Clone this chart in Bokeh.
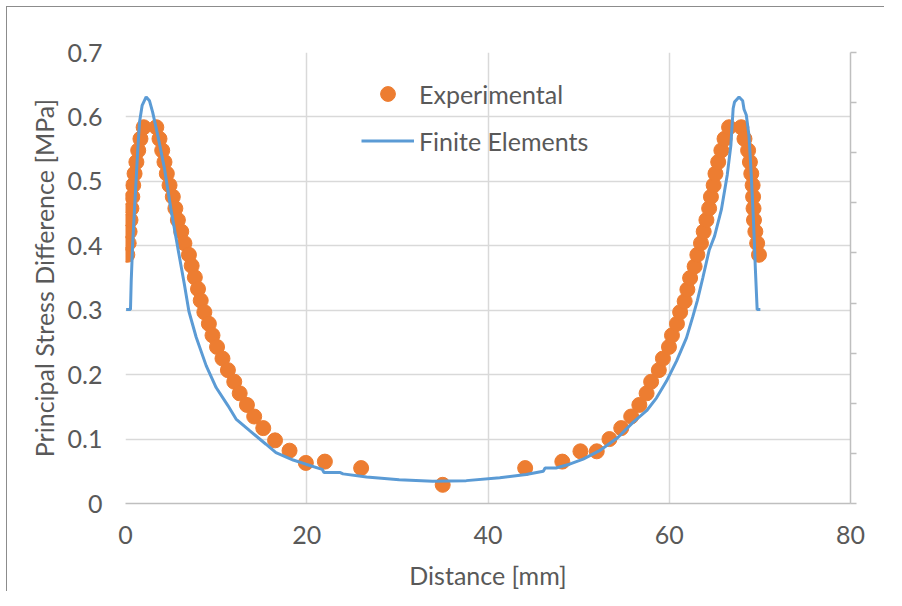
from bokeh.plotting import figure
from bokeh.models import LinearAxis, Range1d, FixedTicker, CustomJSTickFormatter
from bokeh.embed import file_html
from bokeh.resources import INLINE

# Experimental points
exp_x = [0.2, 0.35, 0.45, 0.55, 0.65, 0.75, 0.85, 1.0, 1.2, 1.4, 1.65, 2.0,
         3.4, 3.75, 4.05, 4.3, 4.56, 4.86, 5.22, 5.5, 5.78, 6.15, 6.5, 7.0,
         7.3, 7.65, 8.0, 8.3, 8.7, 9.2, 9.6, 10.1, 10.7, 11.3, 12.0, 12.6,
         13.4, 14.2, 15.2, 16.5, 18.1, 19.9, 22.0, 26.0, 35.0,
         44.1, 48.2, 50.2, 52.0, 53.4, 54.7, 55.8, 56.7, 57.5, 58.0, 58.85,
         59.3, 59.97, 60.3, 60.85, 61.2, 61.7, 62.0, 62.3, 62.8, 63.1, 63.5,
         63.8, 64.1, 64.4, 64.6, 64.9, 65.1, 65.4, 65.75, 66.1, 66.6,
         67.95, 68.3, 68.7, 68.9, 69.05, 69.2, 69.25, 69.3, 69.35, 69.5, 69.7, 69.9]
exp_y = [0.386, 0.404, 0.422, 0.440, 0.458, 0.476, 0.494, 0.512, 0.530, 0.548, 0.566, 0.584,
         0.584, 0.566, 0.548, 0.530, 0.512, 0.494, 0.476, 0.458, 0.440, 0.422, 0.404, 0.386,
         0.369, 0.351, 0.333, 0.315, 0.297, 0.279, 0.261, 0.243, 0.225, 0.207, 0.189, 0.171,
         0.153, 0.135, 0.117, 0.098, 0.082, 0.063, 0.065, 0.055, 0.029,
         0.055, 0.065, 0.081, 0.081, 0.100, 0.117, 0.135, 0.153, 0.171, 0.189, 0.207,
         0.225, 0.243, 0.261, 0.279, 0.297, 0.314, 0.332, 0.350, 0.368, 0.386, 0.404,
         0.422, 0.440, 0.458, 0.476, 0.494, 0.512, 0.530, 0.548, 0.566, 0.584,
         0.584, 0.566, 0.548, 0.530, 0.512, 0.494, 0.476, 0.458, 0.440, 0.422, 0.404, 0.386]

# Finite element curve
fe_x = [0.07, 0.55, 0.63, 0.8, 1.0, 1.18, 1.36, 1.55, 1.84, 2.28, 2.65, 3.0, 3.57,
        4.3, 5.0, 5.78, 6.5, 7.0, 7.8, 8.9, 10.0, 11.3, 12.2, 13.7, 15.5, 16.6,
        18.5, 19.9, 21.7, 21.9, 23.7, 24.0, 26.6, 30.2, 33.9, 37.6, 41.3, 44.2,
        46.1, 46.3, 47.5, 49.0, 50.5, 52.3, 54.3, 56.0, 57.5, 58.6, 59.7, 60.8,
        61.9, 62.6, 63.1, 63.7, 64.4, 65.0, 65.75, 66.4, 66.8, 67.05, 67.2, 67.7,
        68.1, 68.25, 68.5, 68.8, 69.05, 69.3, 69.5, 69.7, 70.05]
fe_y = [0.301, 0.301, 0.345, 0.406, 0.458, 0.504, 0.551, 0.592, 0.618, 0.631, 0.625, 0.607, 0.571,
        0.520, 0.458, 0.396, 0.340, 0.298, 0.258, 0.214, 0.180, 0.152, 0.131, 0.113, 0.092, 0.079,
        0.0675, 0.061, 0.053, 0.048, 0.048, 0.046, 0.041, 0.037, 0.0345, 0.0355, 0.040, 0.045,
        0.050, 0.055, 0.055, 0.061, 0.069, 0.082, 0.102, 0.126, 0.144, 0.164, 0.190, 0.221,
        0.257, 0.290, 0.315, 0.350, 0.393, 0.415, 0.456, 0.510, 0.556, 0.613, 0.623, 0.631,
        0.625, 0.612, 0.603, 0.571, 0.510, 0.437, 0.365, 0.301, 0.301]

x_ticks = [0, 20, 40, 60, 80]
y_ticks = [0, 0.1, 0.2, 0.3, 0.4, 0.5, 0.6, 0.7]
y_tick_labels = ["0", "0.1", "0.2", "0.3", "0.4", "0.5", "0.6", "0.7"]
sec_ticks = [0, 1, 2, 3, 4, 5, 6, 7, 8, 9]

FONT = "Lato"
TXT = "#595959"
FS = "25px"

p = figure(width=878, height=585, output_backend="svg", toolbar_location=None,
           x_range=Range1d(0, 80), y_range=Range1d(0, 0.7),
           min_border_left=118, min_border_right=35, min_border_top=45, min_border_bottom=87,
           x_axis_label="Distance [mm]", y_axis_label="Principal Stress Difference [MPa]")
p.styles = {"border-left": "1px solid #8c8c8c", "border-top": "1px solid #8c8c8c",
            "margin-left": "6px", "margin-top": "6px"}
p.outline_line_color = None
p.background_fill_color = "white"
p.border_fill_color = "white"

p.xaxis.ticker = FixedTicker(ticks=x_ticks)
p.yaxis.ticker = FixedTicker(ticks=y_ticks)
p.yaxis.major_label_overrides = {t: l for t, l in zip(y_ticks, y_tick_labels)}

for ax in (p.xaxis[0], p.yaxis[0]):
    ax.major_tick_in = 0
    ax.major_tick_out = 0
    ax.minor_tick_in = 0
    ax.minor_tick_out = 0
    ax.major_label_text_font = FONT
    ax.major_label_text_font_size = FS
    ax.major_label_text_color = TXT
    ax.axis_label_text_font = FONT
    ax.axis_label_text_font_size = FS
    ax.axis_label_text_color = TXT
    ax.axis_label_text_font_style = "normal"

p.yaxis.axis_line_color = None
p.yaxis.major_label_standoff = 23
p.yaxis.axis_label_standoff = 6
p.xaxis.axis_line_color = "#bfbfbf"
p.xaxis.axis_line_width = 1.5
p.xaxis.major_label_standoff = 22
p.xaxis.axis_label_standoff = 13

p.xgrid.grid_line_color = "#d9d9d9"
p.ygrid.grid_line_color = "#d9d9d9"
p.xgrid.grid_line_width = 1.5
p.ygrid.grid_line_width = 1.5

# secondary right axis (ticks only)
p.extra_y_ranges = {"sec": Range1d(0, 9)}
rax = LinearAxis(y_range_name="sec", ticker=FixedTicker(ticks=sec_ticks),
                 formatter=CustomJSTickFormatter(code="return ''"))
rax.axis_line_color = "#bfbfbf"
rax.axis_line_width = 1.5
rax.major_tick_line_color = "#bfbfbf"
rax.major_tick_line_width = 1.5
rax.major_tick_out = 6
rax.major_tick_in = 0
rax.minor_tick_out = 0
rax.minor_tick_in = 0
p.add_layout(rax, "right")

p.scatter(exp_x, exp_y, size=15, color="#ED7D31", line_color="#ED7D31",
          legend_label="Experimental")
p.line(fe_x, fe_y, line_width=3, color="#5B9BD5", legend_label="Finite Elements")

lg = p.legend[0]
lg.location = (236, 344)
lg.padding = 0
lg.margin = 0
lg.spacing = 10
lg.glyph_width = 53
lg.glyph_height = 37
lg.label_height = 37
lg.label_standoff = 5
lg.label_text_font = FONT
lg.label_text_font_size = FS
lg.label_text_color = TXT
lg.background_fill_alpha = 0
lg.border_line_color = None

open("out.html", "w").write(file_html(p, INLINE))
